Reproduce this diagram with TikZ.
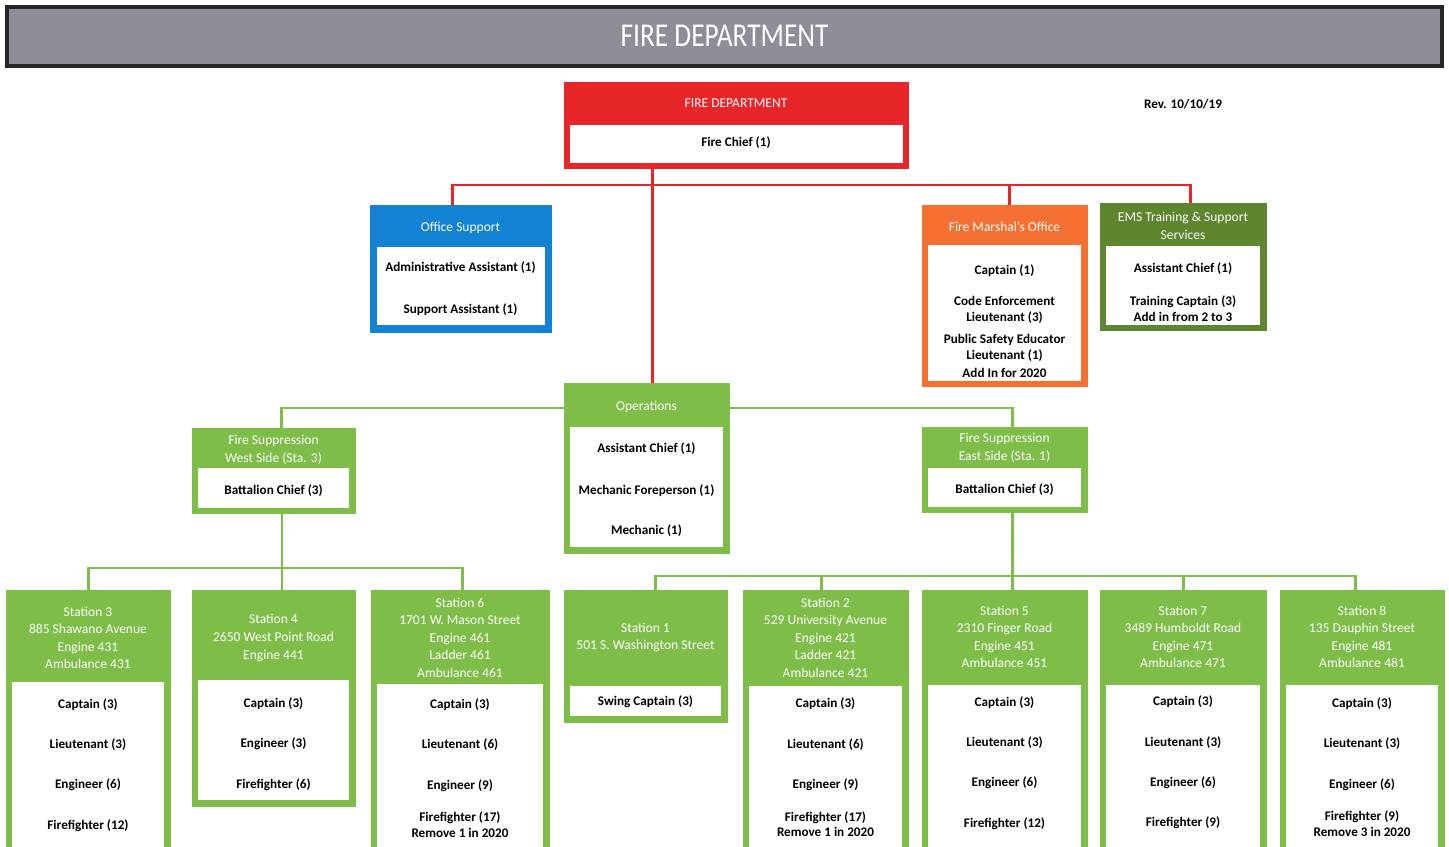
\documentclass[tikz,border=0pt]{standalone}
\usepackage{fontspec}
\setmainfont{Carlito}
\usepackage{graphicx}
\usepackage{tikz}
\definecolor{barGray}{RGB}{142,142,152}
\definecolor{barDark}{RGB}{38,38,40}
\definecolor{chiefRed}{RGB}{232,38,42}
\definecolor{officeBlue}{RGB}{18,130,212}
\definecolor{marshalOrange}{RGB}{243,112,50}
\definecolor{emsGreen}{RGB}{94,134,46}
\definecolor{opsGreen}{RGB}{126,190,72}

\begin{document}
\begin{tikzpicture}[x=0.02cm, y=-0.02cm,
  orgbox/.style={anchor=north west, inner sep=0pt, draw=#1, fill=#1},
  whitebox/.style={anchor=north west, inner sep=0pt, fill=white},
  boxhead/.style={text=white, font=\fontsize{7.7}{10}\selectfont, align=center, inner sep=0pt},
  boxtext/.style={font=\bfseries\fontsize{7.5}{9}\selectfont, align=center, inner sep=0pt},
  redlink/.style={draw=chiefRed, line width=1.6pt},
  greenlink/.style={draw=opsGreen, line width=1.4pt}]
\useasboundingbox (0,0) rectangle (1449,846);
\draw[fill=barGray, draw=barDark, line width=2.6pt] (7,7) rectangle (1442,66);
\node[text=white] (title) at (724.5,36) {\scalebox{0.82}[1]{\fontsize{19}{22}\selectfont FIRE DEPARTMENT}};
\node[boxtext] (rev) at (1183,104) {Rev. 10/10/19};
%
\node[orgbox=chiefRed, minimum width=6.88cm, minimum height=1.72cm] (fd) at (564,82) {};
\node[whitebox, minimum width=6.66cm, minimum height=0.76cm] (fdin) at (570,125) {};
\node[boxhead] (fdhd) at (736,103) {FIRE DEPARTMENT};
\node[boxtext] (fdtx) at (736,143) {Fire Chief (1)};
%
\node[orgbox=officeBlue, minimum width=3.62cm, minimum height=2.54cm] (os) at (370,205) {};
\node[whitebox, minimum width=3.36cm, minimum height=1.56cm] (osin) at (377,247) {};
\node[boxhead] (oshd) at (460.5,228) {Office Support};
\node[boxtext] (ostx) at (460.5,289) {Administrative Assistant (1)\\[15pt]Support Assistant (1)};
%
\node[orgbox=marshalOrange, minimum width=3.30cm, minimum height=3.62cm] (fmo) at (922,205) {};
\node[whitebox, minimum width=3.06cm, minimum height=2.72cm] (fmoin) at (928,245) {};
\node[boxhead] (fmohd) at (1004.5,227) {Fire Marshal’s Office};
\node[boxtext] (fmotx) at (1004.5,321) {Captain (1)\\[9pt]Code Enforcement\\Lieutenant (3)\\[3.5pt]Public Safety Educator\\Lieutenant (1)\\[1.5pt]Add In for 2020};
%
\node[orgbox=emsGreen, minimum width=3.32cm, minimum height=2.54cm] (ems) at (1100,203) {};
\node[whitebox, minimum width=3.08cm, minimum height=1.58cm] (emsin) at (1106,246) {};
\node[boxhead] (emshd) at (1183,226) {EMS Training \& Support\\Services};
\node[boxtext] (emstx) at (1183,292) {Assistant Chief (1)\\[9.5pt]Training Captain (3)\\Add in from 2 to 3};
%
\node[orgbox=opsGreen, minimum width=3.30cm, minimum height=3.40cm] (ops) at (564,383) {};
\node[whitebox, minimum width=3.06cm, minimum height=2.40cm] (opsin) at (570,427) {};
\node[boxhead] (opshd) at (646.5,407) {Operations};
\node[boxtext] (opstx) at (646.5,489.5) {Assistant Chief (1)\\[15pt]Mechanic Foreperson (1)\\[13.5pt]Mechanic (1)};
%
\node[orgbox=opsGreen, minimum width=3.26cm, minimum height=1.70cm] (west) at (192,428) {};
\node[whitebox, minimum width=3.02cm, minimum height=0.80cm] (westin) at (198,468) {};
\node[boxhead] (westhd) at (273.5,450) {Fire Suppression\\West Side (Sta. 3)};
\node[boxtext] (westtx) at (273.5,491) {Battalion Chief (3)};
%
\node[orgbox=opsGreen, minimum width=3.30cm, minimum height=1.70cm] (east) at (922,427) {};
\node[whitebox, minimum width=3.06cm, minimum height=0.78cm] (eastin) at (928,468) {};
\node[boxhead] (easthd) at (1004.5,448) {Fire Suppression\\East Side (Sta. 1)};
\node[boxtext] (easttx) at (1004.5,490) {Battalion Chief (3)};
%
\node[orgbox=opsGreen, minimum width=3.28cm, minimum height=5.32cm] (st3) at (6,590) {};
\node[whitebox, minimum width=3.04cm, minimum height=3.36cm] (st3in) at (12,682) {};
\node[boxhead] (st3hd) at (88,638) {Station 3\\885 Shawano Avenue\\Engine 431\\Ambulance 431};
\node[boxtext] (st3tx) at (88,765) {Captain (3)\\[14pt]Lieutenant (3)\\[14pt]Engineer (6)\\[14pt]Firefighter (12)};
%
\node[orgbox=opsGreen, minimum width=3.26cm, minimum height=4.32cm] (st4) at (192,590) {};
\node[whitebox, minimum width=3.02cm, minimum height=2.40cm] (st4in) at (198,680) {};
\node[boxhead] (st4hd) at (273.5,638) {Station 4\\2650 West Point Road\\Engine 441};
\node[boxtext] (st4tx) at (273.5,744) {Captain (3)\\[14pt]Engineer (3)\\[14pt]Firefighter (6)};
%
\node[orgbox=opsGreen, minimum width=3.56cm, minimum height=5.32cm] (st6) at (371,590) {};
\node[whitebox, minimum width=3.32cm, minimum height=3.32cm] (st6in) at (377,684) {};
\node[boxhead] (st6hd) at (460,637.5) {Station 6\\1701 W. Mason Street\\Engine 461\\Ladder 461\\Ambulance 461};
\node[boxtext] (st6tx) at (460,768) {Captain (3)\\[14pt]Lieutenant (6)\\[14pt]Engineer (9)\\[9.5pt]Firefighter (17)\\Remove 1 in 2020};
%
\node[orgbox=opsGreen, minimum width=3.26cm, minimum height=2.64cm] (st1) at (564,590) {};
\node[whitebox, minimum width=3.02cm, minimum height=0.60cm] (st1in) at (570,686) {};
\node[boxhead] (st1hd) at (645.5,637.5) {Station 1\\501 S. Washington Street};
\node[boxtext] (st1tx) at (645.5,702) {Swing Captain (3)};
%
\node[orgbox=opsGreen, minimum width=3.30cm, minimum height=5.32cm] (st2) at (743,590) {};
\node[whitebox, minimum width=3.06cm, minimum height=3.28cm] (st2in) at (749,686) {};
\node[boxhead] (st2hd) at (825.5,637.5) {Station 2\\529 University Avenue\\Engine 421\\Ladder 421\\Ambulance 421};
\node[boxtext] (st2tx) at (825.5,767.5) {Captain (3)\\[14pt]Lieutenant (6)\\[14pt]Engineer (9)\\[9.5pt]Firefighter (17)\\Remove 1 in 2020};
%
\node[orgbox=opsGreen, minimum width=3.30cm, minimum height=5.32cm] (st5) at (922,590) {};
\node[whitebox, minimum width=3.06cm, minimum height=3.30cm] (st5in) at (928,685) {};
\node[boxhead] (st5hd) at (1004.5,637) {Station 5\\2310 Finger Road\\Engine 451\\Ambulance 451};
\node[boxtext] (st5tx) at (1004.5,763) {Captain (3)\\[14pt]Lieutenant (3)\\[14pt]Engineer (6)\\[14pt]Firefighter (12)};
%
\node[orgbox=opsGreen, minimum width=3.32cm, minimum height=5.32cm] (st7) at (1100,590) {};
\node[whitebox, minimum width=3.08cm, minimum height=3.30cm] (st7in) at (1106,685) {};
\node[boxhead] (st7hd) at (1183,637) {Station 7\\3489 Humboldt Road\\Engine 471\\Ambulance 471};
\node[boxtext] (st7tx) at (1183,762.5) {Captain (3)\\[14pt]Lieutenant (3)\\[14pt]Engineer (6)\\[14pt]Firefighter (9)};
%
\node[orgbox=opsGreen, minimum width=3.28cm, minimum height=5.32cm] (st8) at (1280,590) {};
\node[whitebox, minimum width=3.04cm, minimum height=3.30cm] (st8in) at (1286,685) {};
\node[boxhead] (st8hd) at (1362,637) {Station 8\\135 Dauphin Street\\Engine 481\\Ambulance 481};
\node[boxtext] (st8tx) at (1362,767) {Captain (3)\\[14pt]Lieutenant (3)\\[14pt]Engineer (6)\\[9.5pt]Firefighter (9)\\Remove 3 in 2020};
%
\coordinate (redbus) at (652,185);
\coordinate (chiefdrop) at ([xshift=0.11cm]ops.north);
\coordinate (osdrop) at ([xshift=-0.17cm]os.north);
\coordinate (fmodrop) at ([xshift=0.09cm]fmo.north);
\coordinate (emsdrop) at ([xshift=0.14cm]ems.north);
\draw[redlink] (chiefdrop) -- (chiefdrop |- fd.south);
\draw[redlink] (osdrop) |- (redbus) -| (emsdrop);
\draw[redlink] (fmodrop) -- (fmodrop |- redbus);
%
\coordinate (opsbus) at (646.5,408);
\coordinate (westdrop) at ([xshift=0.15cm]west.north);
\coordinate (eastdrop) at ([xshift=0.15cm]east.north);
\draw[greenlink] (westdrop) |- (opsbus -| ops.west);
\draw[greenlink] (ops.east |- opsbus) -| (eastdrop);
%
\coordinate (westbus) at (281,568);
\coordinate (st4drop) at ([xshift=0.16cm]st4.north);
\coordinate (st6drop) at ([xshift=0.04cm]st6.north);
\draw[greenlink] (st4drop |- west.south) -- (st4drop);
\draw[greenlink] (st3.north) |- (westbus) -| (st6drop);
%
\coordinate (eastbus) at (1012,576);
\coordinate (st5drop) at ([xshift=0.15cm]st5.north);
\coordinate (st1drop) at ([xshift=0.19cm]st1.north);
\coordinate (st2drop) at ([xshift=-0.09cm]st2.north);
\coordinate (st8drop) at ([xshift=-0.14cm]st8.north);
\draw[greenlink] (st5drop |- east.south) -- (st5drop);
\draw[greenlink] (st1drop) |- (eastbus) -| (st8drop);
\draw[greenlink] (st2drop) -- (st2drop |- eastbus);
\draw[greenlink] (st7.north) -- (st7.north |- eastbus);
\end{tikzpicture}
\end{document}
